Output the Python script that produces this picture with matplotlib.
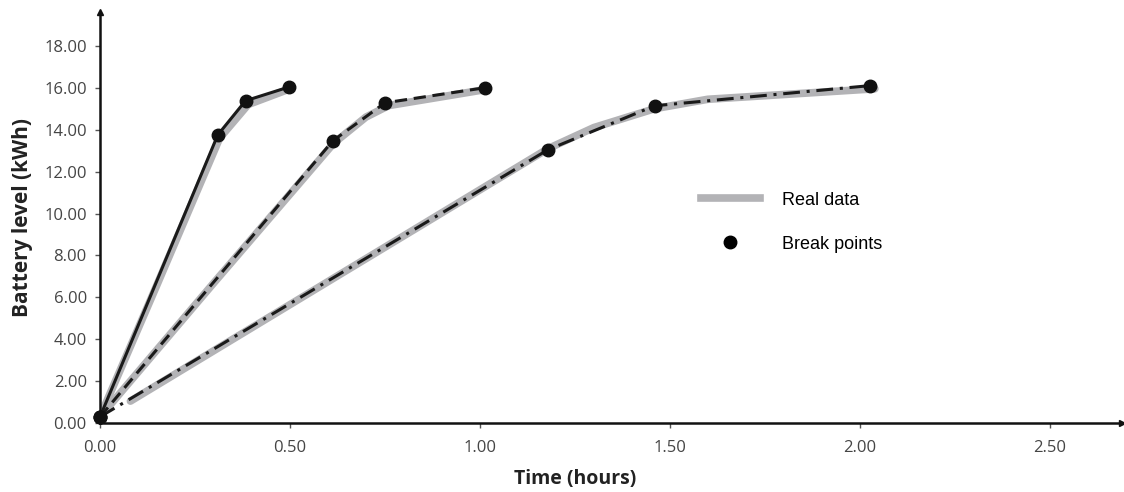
import matplotlib.pyplot as plt
from matplotlib.lines import Line2D

# break points for the three charging profiles (time in hours, level in kWh)
fast_t = [0.0, 0.31, 0.383, 0.498]
fast_e = [0.3, 13.75, 15.38, 16.04]
mid_t = [0.0, 0.613, 0.75, 1.013]
mid_e = [0.3, 13.47, 15.28, 16.0]
slow_t = [0.0, 1.179, 1.46, 2.026]
slow_e = [0.3, 13.04, 15.14, 16.1]

# measured battery level
real_fast_t = [0.0, 0.15, 0.315, 0.39, 0.50]
real_fast_e = [0.3, 6.6, 13.6, 15.2, 15.95]
real_mid_t = [0.0, 0.30, 0.615, 0.70, 0.76, 1.01]
real_mid_e = [0.3, 6.7, 13.35, 14.6, 15.15, 15.9]
real_slow_t = [0.08, 0.60, 1.18, 1.30, 1.46, 1.60, 2.04]
real_slow_e = [1.05, 6.75, 13.1, 14.1, 15.0, 15.45, 15.95]

xticks = [0.0, 0.5, 1.0, 1.5, 2.0, 2.5]
yticks = [0, 2, 4, 6, 8, 10, 12, 14, 16, 18]

gray = "#b3b3b6"
fig = plt.figure(figsize=(11.24, 4.92), dpi=100)
ax = fig.add_axes([0.089, 0.140, 0.909, 0.835])

for t, e in [(real_fast_t, real_fast_e), (real_mid_t, real_mid_e), (real_slow_t, real_slow_e)]:
    ax.plot(t, e, color=gray, lw=5.5, solid_capstyle="round", zorder=2)

ax.plot(fast_t, fast_e, color="#1a1a1a", lw=2.2, ls="-", zorder=3)
ax.plot(mid_t, mid_e, color="#1a1a1a", lw=2.2, ls=(0, (4, 2.2)), zorder=3)
ax.plot(slow_t, slow_e, color="#1a1a1a", lw=2.2, ls=(0, (5.5, 2.2, 1, 2.2)), zorder=3)
for t, e in [(fast_t, fast_e), (mid_t, mid_e), (slow_t, slow_e)]:
    ax.plot(t, e, "o", color="#111111", ms=9, zorder=4, clip_on=False)

ax.set_xlim(0, 2.69)
ax.set_ylim(0, 19.6)
ax.set_xticks(xticks)
ax.set_xticklabels([f"{v:.2f}" for v in xticks])
ax.set_yticks(yticks)
ax.set_yticklabels([f"{v:.2f}" for v in yticks])
ax.tick_params(labelsize=12, colors="#555555", length=3.5, width=1, pad=6)
for lab in ax.get_xticklabels() + ax.get_yticklabels():
    lab.set_family("Open Sans")
    lab.set_color("#454545")
ax.tick_params(axis="x", pad=9)

for side in ["top", "right"]:
    ax.spines[side].set_visible(False)
for side in ["left", "bottom"]:
    ax.spines[side].set_linewidth(1.8)
    ax.spines[side].set_color("#111111")
ax.plot(1, 0, ">", color="#111111", ms=5, transform=ax.transAxes, clip_on=False)
ax.plot(0, 1, "^", color="#111111", ms=5, transform=ax.transAxes, clip_on=False)

ax.set_xlabel("Time (hours)", family="Open Sans", fontsize=14, fontweight="bold",
              color="#222222")
ax.xaxis.set_label_coords(0.465, -0.112)
ax.set_ylabel("Battery level (kWh)", family="Open Sans", fontsize=15, fontweight="bold",
              color="#222222", labelpad=8)

handles = [Line2D([], [], color=gray, lw=5.5),
           Line2D([], [], ls="", marker="o", color="black", ms=9)]
ax.legend(handles, ["Real data", "Break points"], loc="upper left",
          bbox_to_anchor=(0.572, 0.603), frameon=False, handlelength=3.3,
          handletextpad=1.2, labelspacing=1.5,
          prop={"family": "Liberation Sans", "size": 13})

fig.savefig("out.png", dpi=100)
